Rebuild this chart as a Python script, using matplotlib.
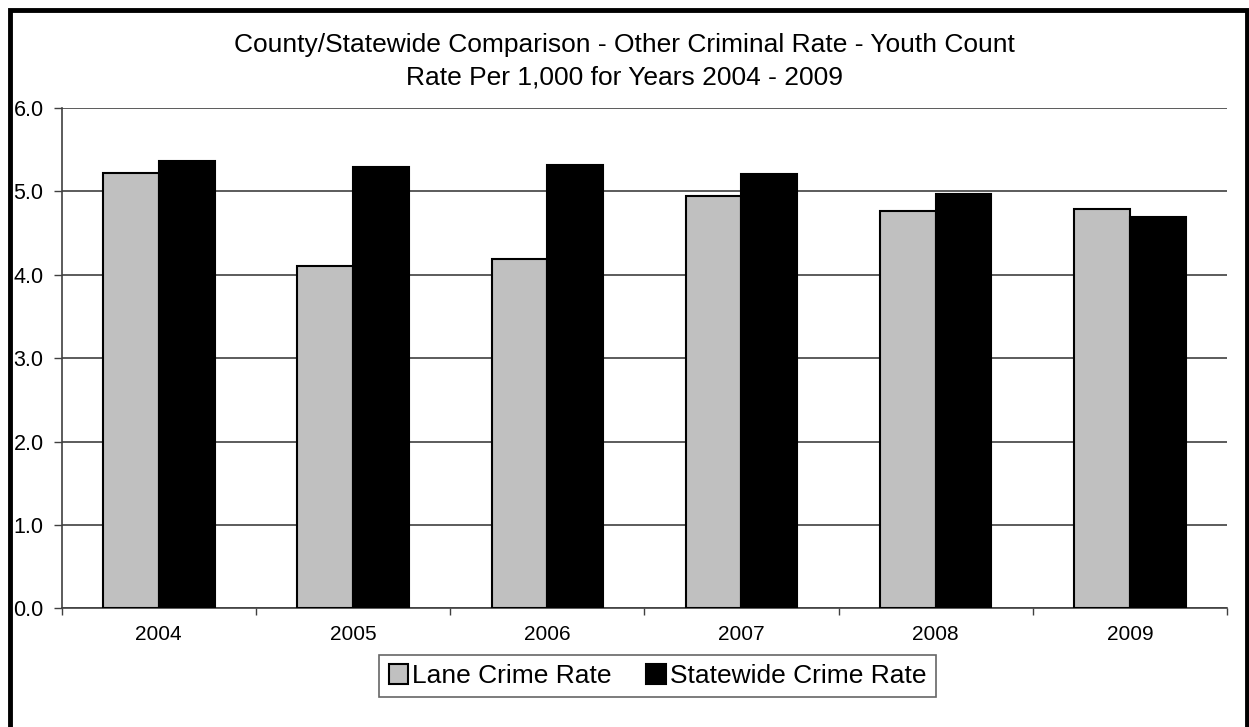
import numpy as np
import matplotlib.pyplot as plt
from matplotlib.patches import Rectangle

plt.rcParams['font.family'] = ['Liberation Sans', 'DejaVu Sans']

# Du lieu doc tu bieu do
years = ['2004', '2005', '2006', '2007', '2008', '2009']
lane_rate = [5.22, 4.10, 4.19, 4.94, 4.76, 4.79]
state_rate = [5.36, 5.29, 5.32, 5.21, 4.97, 4.69]

fig = plt.figure(figsize=(12.49, 7.27), dpi=100)
ax = fig.add_axes([0.0494, 0.1633, 0.9330, 0.6881])

x = np.arange(len(years))
w = 0.287
ax.bar(x - w / 2, lane_rate, w, color='#c0c0c0', edgecolor='black', linewidth=1.5,
       label='Lane Crime Rate', zorder=3)
ax.bar(x + w / 2, state_rate, w, color='black', edgecolor='black', linewidth=1.5,
       label='Statewide Crime Rate', zorder=3)

ax.set_xlim(-0.5, len(years) - 0.5)
ax.set_ylim(0, 6)
ax.set_yticks(np.arange(0, 6.1, 1.0))
ax.set_yticklabels(['%.1f' % v for v in np.arange(0, 6.1, 1.0)])
ax.set_xticks(x)
ax.set_xticklabels(years)
ax.set_xticks(np.arange(-0.5, len(years)), minor=True)
ax.tick_params(axis='x', which='major', length=0, pad=12, labelsize=15)
ax.tick_params(axis='x', which='minor', length=5, width=1, color='#404040')
ax.tick_params(axis='y', length=6, width=1, color='#404040', pad=7, labelsize=15.5)
ax.yaxis.grid(True, color='#404040', linewidth=1.2, zorder=0)
ax.set_axisbelow(True)
for s in ['top', 'right']:
    ax.spines[s].set_visible(False)
for s in ['left', 'bottom']:
    ax.spines[s].set_color('#404040')
    ax.spines[s].set_linewidth(1.2)

fig.text(0.5, 0.938, 'County/Statewide Comparison - Other Criminal Rate - Youth Count',
         ha='center', va='center', fontsize=19)
fig.text(0.5, 0.894, 'Rate Per 1,000 for Years 2004 - 2009',
         ha='center', va='center', fontsize=19)

leg = fig.legend(loc='center', bbox_to_anchor=(0.5265, 0.07), ncol=2, fontsize=19,
                 frameon=True, fancybox=False, edgecolor='#404040',
                 handlelength=0.75, handleheight=0.75, handletextpad=0.15,
                 columnspacing=1.3, borderpad=0.35, borderaxespad=0)
leg.get_frame().set_linewidth(1.2)

# khung vien ngoai
fig.patches.append(Rectangle((10 / 1249, -0.1), 1237 / 1249, 1.1 - 9.5 / 727,
                             transform=fig.transFigure, fill=False,
                             edgecolor='black', linewidth=3.5))

fig.savefig('out.png', dpi=100)
